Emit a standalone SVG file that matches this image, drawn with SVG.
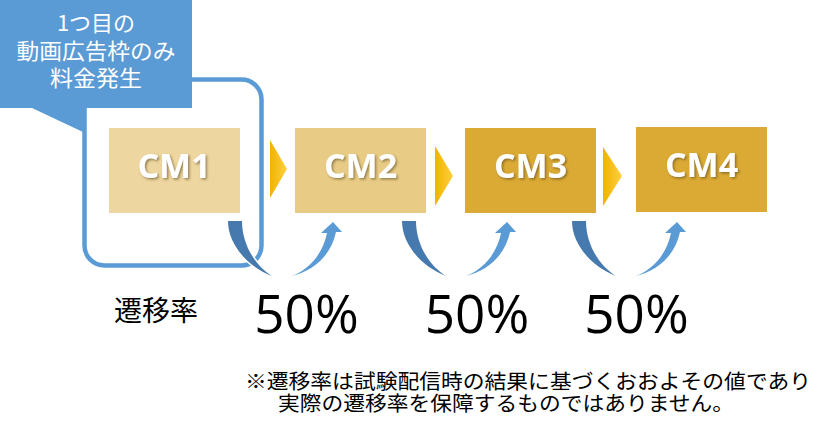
<svg xmlns="http://www.w3.org/2000/svg" width="833" height="436" viewBox="0 0 833 436">
<defs>
<style>
.jp{font-family:"Noto Sans CJK JP","Noto Sans",sans-serif;}
.cw{font-size:22px;fill:#ffffff;text-anchor:middle;}
.cm{font-family:"Open Sans","Noto Sans",sans-serif;font-weight:bold;font-size:34px;fill:#ffffff;text-anchor:middle;filter:url(#sh);}
.pct{font-family:"Open Sans","Noto Sans",sans-serif;font-size:53px;fill:#000000;text-anchor:middle;}
.note{font-size:20.5px;fill:#000000;}
.chev{fill:url(#gold);}
.dark{fill:#4679AD;stroke:#ffffff;stroke-width:3;paint-order:stroke;}
.light{fill:#5B9BD5;}
</style>
<linearGradient id="gold" x1="0" y1="0" x2="1" y2="0">
<stop offset="0" stop-color="#EFB300"/>
<stop offset="1" stop-color="#FFD040"/>
</linearGradient>
<filter id="sh" x="-20%" y="-20%" width="140%" height="140%">
<feDropShadow dx="1.5" dy="1.5" stdDeviation="1" flood-color="#5a4a20" flood-opacity="0.6"/>
</filter>
<g id="uarrow">
<path class="dark" d="M0,0 C0,22 18,45 44,55 C26,44 14,22 14,0 Z"/>
<path class="light" d="M64,55 C85,50 103,35 108,11 L114,11 L105,1 L93,12 L99,12 C95,32 82,48 64,55 Z"/>
</g>
</defs>
<rect width="833" height="436" fill="#ffffff"/>

<g id="scope">
<rect x="84.5" y="79.5" width="177" height="186" rx="20" fill="none" stroke="#5B9BD5" stroke-width="4.5"/>
</g>

<g id="callout">
<path d="M0,0 H192 V108 H83 V132 L32,108 H0 Z" fill="#5B9BD5"/>
<text class="jp cw" x="96" y="31">1つ目の</text>
<text class="jp cw" x="96" y="58.5" textLength="159" lengthAdjust="spacingAndGlyphs">動画広告枠のみ</text>
<text class="jp cw" x="96" y="86" textLength="92" lengthAdjust="spacingAndGlyphs">料金発生</text>
</g>

<g id="cm1">
<rect x="109" y="128" width="131" height="85" fill="#EDD69F"/>
<text class="cm" x="174" y="178">CM1</text>
</g>
<g id="cm2">
<rect x="295" y="128" width="131" height="85" fill="#E8CC86"/>
<text class="cm" x="360.5" y="178">CM2</text>
</g>
<g id="cm3">
<rect x="465" y="128" width="131" height="85" fill="#DBAA34"/>
<text class="cm" x="530.5" y="178">CM3</text>
</g>
<g id="cm4">
<rect x="636" y="127" width="131" height="85" fill="#DBAA34"/>
<text class="cm" x="701.5" y="177">CM4</text>
</g>

<g id="connectors">
<polygon class="chev" points="270,140 287,169 270,198"/>
<polygon class="chev" points="435,146 453,176 435,206"/>
<polygon class="chev" points="603,147 622,176 603,206"/>
<use href="#uarrow" transform="translate(228,221)"/>
<use href="#uarrow" transform="translate(402,221)"/>
<use href="#uarrow" transform="translate(572,221)"/>
</g>

<g id="rates">
<text class="jp" x="114" y="321" font-size="28" fill="#000000">遷移率</text>
<text class="pct" x="306.5" y="333">50%</text>
<text class="pct" x="477" y="333">50%</text>
<text class="pct" x="636.5" y="333">50%</text>
</g>

<g id="note">
<text class="jp note" x="245" y="389" textLength="566" lengthAdjust="spacingAndGlyphs">※遷移率は試験配信時の結果に基づくおおよその値であり</text>
<text class="jp note" x="278" y="411" textLength="456" lengthAdjust="spacingAndGlyphs">実際の遷移率を保障するものではありません。</text>
</g>
</svg>
